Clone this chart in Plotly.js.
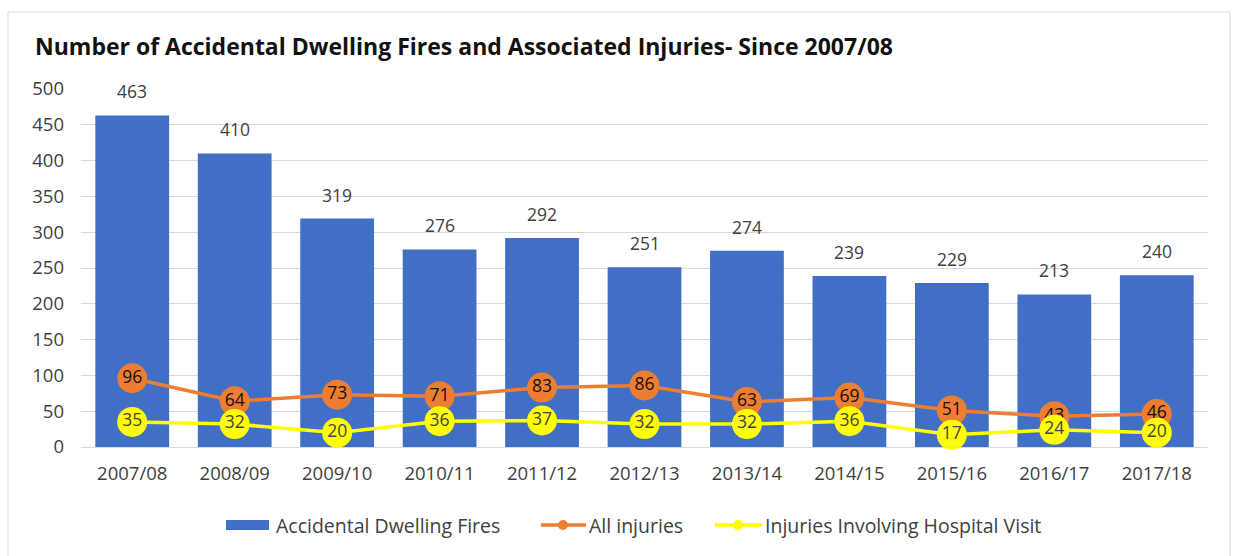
<!DOCTYPE html>
<html><head><meta charset="utf-8">
<script src="https://cdn.plot.ly/plotly-3.0.1.min.js"></script>
<style>html,body{margin:0;padding:0;background:#fff;}#chart{width:1234px;height:556px;}</style>
</head><body><div id="chart"></div>
<script>
var years = ["2007/08","2008/09","2009/10","2010/11","2011/12","2012/13","2013/14","2014/15","2015/16","2016/17","2017/18"];
var fires = [463,410,319,276,292,251,274,239,229,213,240];
var allInjuries = [96,64,73,71,83,86,63,69,51,43,46];
var hospitalInjuries = [35,32,20,36,37,32,32,36,17,24,20];
var yTicks = [0,50,100,150,200,250,300,350,400,450,500];
var seriesNames = ['Accidental Dwelling Fires','All injuries','Injuries Involving Hospital Visit'];
var colors = {bar:'#416fc6', orange:'#ED7D31', yellow:'#FFFF00'};

var font = "'Open Sans', sans-serif";
var ML = 81, MR = 26, MT = 89, MB = 109, W = 1234, H = 556;
var PW = W - ML - MR, PH = H - MT - MB;
function px(x){ return (x - ML) / PW; }
function py(y){ return (H - MB - y) / PH; }

var traces = [
  {type:'bar', x:years, y:fires, name:seriesNames[0],
   marker:{color:colors.bar}, hoverinfo:'x+y'},
  {type:'scatter', mode:'lines+markers+text', x:years, y:allInjuries, name:seriesNames[1],
   line:{color:colors.orange,width:3.5}, marker:{color:colors.orange,size:30},
   text:allInjuries.map(String), textposition:'middle center',
   textfont:{size:17.5,color:'#111',family:font}, cliponaxis:false},
  {type:'scatter', mode:'lines+markers+text', x:years, y:hospitalInjuries, name:seriesNames[2],
   line:{color:colors.yellow,width:3.5}, marker:{color:colors.yellow,size:30},
   text:hospitalInjuries.map(String), textposition:'middle center',
   textfont:{size:17.5,color:'#444',family:font}, cliponaxis:false}
];

var annotations = years.map(function(yr, i){
  return {x:yr, y:fires[i], xref:'x', yref:'y', text:String(fires[i]), showarrow:false,
    yanchor:'bottom', yshift:10, font:{size:17.5,color:'#404040',family:font}};
});
// manual legend
var legY = 525;
var legFont = {size:19.5,color:'#404040',family:font};
annotations.push({xref:'paper', yref:'paper', x:px(274), y:py(legY), xanchor:'left', yanchor:'middle',
  text:seriesNames[0], showarrow:false, font:legFont});
annotations.push({xref:'paper', yref:'paper', x:px(587), y:py(legY), xanchor:'left', yanchor:'middle',
  text:seriesNames[1], showarrow:false, font:legFont});
annotations.push({xref:'paper', yref:'paper', x:px(763), y:py(legY), xanchor:'left', yanchor:'middle',
  text:seriesNames[2], showarrow:false, font:legFont});

var shapes = [
  {type:'rect', xref:'paper', yref:'paper', x0:px(8), x1:px(1230), y0:py(560), y1:py(12),
    line:{color:'#d9d9d9',width:1}, fillcolor:'rgba(0,0,0,0)', layer:'below'},
  {type:'rect', xref:'paper', yref:'paper', x0:px(226), x1:px(269), y0:py(530), y1:py(520),
    line:{width:0}, fillcolor:colors.bar},
  {type:'line', xref:'paper', yref:'paper', x0:px(541), x1:px(586), y0:py(legY), y1:py(legY),
    line:{color:colors.orange,width:3.5}},
  {type:'circle', xref:'paper', yref:'paper', x0:px(558), x1:px(568), y0:py(530), y1:py(520),
    line:{width:0}, fillcolor:colors.orange},
  {type:'line', xref:'paper', yref:'paper', x0:px(715), x1:px(762), y0:py(legY), y1:py(legY),
    line:{color:colors.yellow,width:3.5}},
  {type:'circle', xref:'paper', yref:'paper', x0:px(733), x1:px(743), y0:py(530), y1:py(520),
    line:{width:0}, fillcolor:colors.yellow}
];

var layout = {
  width:W, height:H,
  margin:{l:ML,r:MR,t:MT,b:MB},
  paper_bgcolor:'#fff', plot_bgcolor:'#fff',
  font:{family:font,color:'#404040',size:17},
  bargap:0.28, showlegend:false,
  title:{text:'<b>Number of Accidental Dwelling Fires and Associated Injuries- Since 2007/08</b>',
    xref:'container', x:35/W, xanchor:'left', yref:'container', y:1-47/H, yanchor:'middle',
    font:{size:23,color:'#111',family:font}},
  xaxis:{type:'category', range:[-0.5, years.length - 0.5], tickfont:{size:18.5,color:'#404040'},
    showline:true, linecolor:'#d9d9d9', linewidth:1,
    ticks:'', showgrid:false, automargin:false, ticklabelstandoff:10, fixedrange:true},
  yaxis:{range:[0,500], tickvals:yTicks, tickfont:{size:18.5,color:'#404040'}, gridcolor:'#d9d9d9',
    zeroline:false, showline:false, ticks:'', automargin:false, ticklabelstandoff:16, fixedrange:true},
  annotations:annotations,
  shapes:shapes
};
Plotly.newPlot('chart', traces, layout, {displayModeBar:false, staticPlot:true});
</script></body></html>
